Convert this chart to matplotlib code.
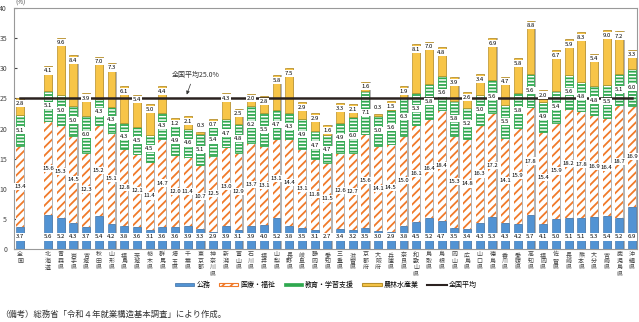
import numpy as np
import matplotlib
matplotlib.use('Agg')
import matplotlib.pyplot as plt
from matplotlib.patches import Patch
from matplotlib.lines import Line2D

plt.rcParams['font.family'] = ['Noto Sans CJK JP', 'DejaVu Sans']
plt.rcParams['hatch.linewidth'] = 1.3

regions = ['全国', '北海道', '青森県', '岩手県', '宮城県', '秋田県', '山形県', '福島県', '茨城県',
           '栃木県', '群馬県', '埼玉県', '千葉県', '東京都', '神奈川県', '新潟県', '富山県', '石川県',
           '福井県', '山梨県', '長野県', '岐阜県', '静岡県', '愛知県', '三重県', '滋賀県', '京都府',
           '大阪府', '兵庫県', '奈良県', '和歌山県', '鳥取県', '島根県', '岡山県', '広島県', '山口県',
           '徳島県', '香川県', '愛媛県', '高知県', '福岡県', '佐賀県', '長崎県', '熊本県', '大分県',
           '宮崎県', '鹿児島県', '沖縄県']
koumu = [3.7, 5.6, 5.2, 4.3, 3.7, 5.4, 4.2, 3.8, 3.6, 3.1, 3.6, 3.6, 3.9, 3.3, 2.9, 3.9, 3.1, 3.9,
         4.0, 5.2, 3.8, 3.5, 3.1, 2.7, 3.4, 3.2, 3.5, 3.0, 2.9, 3.8, 4.5, 5.2, 4.7, 3.5, 3.4, 4.3,
         5.3, 4.3, 4.2, 5.7, 4.1, 5.0, 5.1, 5.1, 5.3, 5.4, 5.2, 6.9]
iryo = [13.4, 15.6, 15.3, 14.5, 12.3, 15.2, 15.1, 12.8, 12.1, 11.4, 14.7, 12.0, 11.4, 10.7, 12.5,
        13.0, 12.9, 13.7, 13.1, 13.1, 14.4, 13.1, 11.8, 11.5, 12.6, 12.7, 15.6, 14.1, 14.5, 15.0,
        16.1, 16.4, 18.4, 15.3, 14.8, 16.3, 17.2, 14.1, 15.9, 17.8, 15.4, 15.9, 18.2, 17.8, 16.9,
        16.4, 18.7, 16.9]
kyoiku = [5.1, 5.1, 5.0, 5.0, 6.0, 4.3, 4.3, 4.3, 4.5, 4.5, 4.3, 4.9, 4.6, 5.1, 5.4, 4.7, 4.8, 6.2,
          5.5, 4.7, 4.3, 4.9, 4.7, 4.7, 4.9, 6.0, 7.1, 5.0, 5.6, 6.3, 5.3, 5.8, 5.6, 5.8, 5.2, 5.0,
          5.6, 5.5, 5.8, 5.6, 4.9, 5.4, 5.6, 4.8, 4.8, 5.5, 5.1, 6.0]
nourin = [2.8, 4.1, 9.6, 8.4, 3.9, 7.0, 7.3, 6.1, 5.4, 5.0, 4.4, 1.2, 2.1, 0.3, 0.7, 4.3, 2.5, 2.0,
          2.8, 5.8, 7.5, 2.9, 2.9, 1.6, 3.3, 2.1, 1.6, 0.3, 1.5, 1.9, 8.1, 7.0, 4.8, 3.9, 2.6, 3.4,
          6.9, 4.7, 5.8, 8.8, 2.0, 6.7, 5.9, 8.3, 5.4, 9.0, 7.2, 3.3]
national_avg = 25.0
series_names = ['公務', '医療・福祉', '教育・学習支援', '農林水産業', '全国平均']

C_BLUE = '#5293D3'
C_ORANGE = '#F07A2A'
C_GREEN = '#2FA84F'
C_YELLOW = '#F7C548'

k = np.array(koumu); m = np.array(iryo); e = np.array(kyoiku); n = np.array(nourin)
tot = k + m + e + n
xs = np.array([-2.2] + list(range(len(regions) - 1)), dtype=float)

fig = plt.figure(figsize=(6.39, 3.22), dpi=100)
ax = fig.add_axes([14/639, 73/322, (637-14)/639, 241/322])

w = 0.62
ax.bar(xs + 0.1, tot, w, color='#B5B5B5', lw=0, zorder=1)
ax.bar(xs, k, w, color=C_BLUE, edgecolor='#3A6EA5', lw=0.4, zorder=2)
ax.bar(xs, m, w, bottom=k, facecolor='white', edgecolor=C_ORANGE, hatch='////', lw=0, zorder=2)
ax.bar(xs, e, w, bottom=k+m, facecolor='white', edgecolor=C_GREEN, hatch='-----', lw=0.6, zorder=2)
ax.bar(xs, n, w, bottom=k+m+e, color=C_YELLOW, edgecolor='#B8902A', lw=0.5, zorder=2)

bb = dict(boxstyle='square,pad=0.18', fc='white', ec='none')
fs = 4.3
for i, x in enumerate(xs):
    ax.text(x, 2.0, f'{k[i]:.1f}', ha='center', va='center', fontsize=fs, bbox=bb, zorder=6)
    ax.text(x, k[i] + m[i]/2, f'{m[i]:.1f}', ha='center', va='center', fontsize=fs, bbox=bb, zorder=6)
    ax.text(x, k[i] + m[i] + e[i]/2, f'{e[i]:.1f}', ha='center', va='center', fontsize=fs, bbox=bb, zorder=6)
    yy = tot[i] - 0.85 if n[i] >= 0.5 else tot[i] + 1.1
    ax.text(x, yy, f'{n[i]:.1f}', ha='center', va='center', fontsize=fs, bbox=bb, zorder=6)

ax.plot([xs[0], xs[-1]], [national_avg, national_avg], color='#2B2220', lw=1.8, zorder=5)
ax.annotate('', xy=(10.85, national_avg + 0.2), xytext=(11.3, 27.8),
            arrowprops=dict(arrowstyle='-|>', lw=0.5, color='#333333', mutation_scale=5), zorder=7)
ax.text(11.6, 28.9, f'全国平均{national_avg:.1f}%', ha='center', va='center', fontsize=5, color='#333333')

ax.set_xlim(-2.68, 46.39)
ax.set_ylim(0, 40)
ax.set_yticks(np.arange(0, 41, 5))
ax.tick_params(axis='y', labelsize=5, length=2, direction='in', pad=5, colors='#444444')
ax.set_xticks(xs)
ax.set_xticklabels([''] * len(xs))
ax.tick_params(axis='x', length=0)
# vertical (stacked) category labels
for x, name in zip(xs, regions):
    for j, ch in enumerate(name):
        ax.annotate(ch, xy=(x, 0), xycoords=('data', 'axes fraction'),
                    xytext=(0, -3 - j * 6.6), textcoords='offset pixels',
                    ha='center', va='top', fontsize=4.3, color='#444444', annotation_clip=False)
for s in ax.spines.values():
    s.set_color('#999999')
    s.set_linewidth(0.8)
fig.text(20/639, 1 - 3/322, '(%)', fontsize=4.5, va='center', ha='center', color='#444444')

handles = [Patch(facecolor=C_BLUE, edgecolor='#3A6EA5', lw=0.5),
           Patch(facecolor='white', edgecolor=C_ORANGE, hatch='////', lw=0.8),
           Patch(facecolor=C_GREEN, edgecolor=C_GREEN, lw=0.5),
           Patch(facecolor=C_YELLOW, edgecolor='#B8902A', lw=0.8),
           Line2D([0], [0], color='#2B2220', lw=1.5)]
fig.legend(handles, series_names, loc='center', bbox_to_anchor=(0.51, 1 - 285/322), ncol=5,
           frameon=False, fontsize=5, handlelength=2.8, handleheight=0.35, columnspacing=1.2,
           handletextpad=0.3)

fig.text(0.0, 1 - 314/322, '（備考）総務省「令和４年就業構造基本調査」により作成。', fontsize=6,
         va='center', ha='left', color='#333333')

fig.savefig('out.png', dpi=100)
